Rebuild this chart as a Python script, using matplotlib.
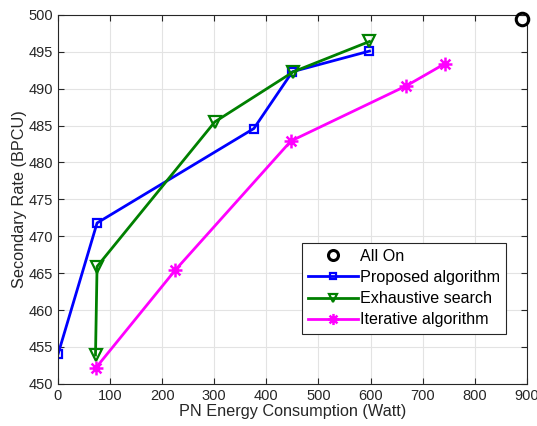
import matplotlib
matplotlib.use('Agg')
import matplotlib.pyplot as plt
from matplotlib.path import Path

plt.rcParams['font.family'] = ['Liberation Sans', 'DejaVu Sans']

# (energy in Watt, secondary rate in BPCU)
all_on_x = [890]
all_on_y = [499.4]

proposed_x = [0, 75, 376, 450, 598]
proposed_y = [454.0, 471.8, 484.6, 492.3, 495.1]

exhaustive_x = [72, 75, 301, 452, 598]
exhaustive_y = [453.9, 465.9, 485.5, 492.3, 496.4]

iterative_x = [72, 225, 447, 669, 743]
iterative_y = [452.1, 465.4, 482.9, 490.4, 493.4]

xticks = list(range(0, 901, 100))
yticks = list(range(450, 501, 5))

# matlab style asterisk: a '+' and an 'x' on top of each other
d = 0.707
asterisk = Path([(-1, 0), (1, 0), (0, -1), (0, 1),
                 (-d, -d), (d, d), (-d, d), (d, -d)],
                [Path.MOVETO, Path.LINETO] * 4)

fig = plt.figure(figsize=(5.37, 4.26), dpi=100)
ax = fig.add_axes([0.108, 0.099, 0.873, 0.866])

ax.plot(all_on_x, all_on_y, 'o', color='black', mfc='none', mew=2.2, ms=9,
        label='All On', clip_on=False, zorder=5)
ax.plot(proposed_x, proposed_y, '-s', color='#0000ff', lw=2, mfc='none',
        mew=1.6, ms=6, label='Proposed algorithm')
ax.plot(exhaustive_x, exhaustive_y, '-v', color='#008000', lw=2, mfc='none',
        mew=1.6, ms=8, label='Exhaustive search')
ax.plot(iterative_x, iterative_y, '-', marker=asterisk, color='#ff00ff', lw=2,
        mew=1.8, ms=10, label='Iterative algorithm')

ax.set_xlim(0, 900)
ax.set_ylim(450, 500)
ax.set_xticks(xticks)
ax.set_yticks(yticks)
ax.grid(True, color='#e3e3e3', lw=0.8)
ax.set_axisbelow(True)
ax.tick_params(direction='in', length=4, labelsize=10.5, colors='#262626',
               top=True, right=True, labeltop=False, labelright=False)
for s in ax.spines.values():
    s.set_color('#262626')
    s.set_linewidth(0.8)

ax.set_xlabel('PN Energy Consumption (Watt)', fontsize=11.7, color='#262626',
              labelpad=1)
ax.set_ylabel('Secondary Rate (BPCU)', fontsize=11.7, color='#262626',
              labelpad=1)

leg = ax.legend(loc='upper left', bbox_to_anchor=(0.52, 0.383), fontsize=11.6,
                fancybox=False, edgecolor='#262626', framealpha=1,
                borderpad=0.4, labelspacing=0.38, handlelength=3.1,
                handletextpad=0.1, borderaxespad=0, markerscale=0.8)
leg.get_frame().set_linewidth(0.8)

fig.savefig('out.png', dpi=100)
